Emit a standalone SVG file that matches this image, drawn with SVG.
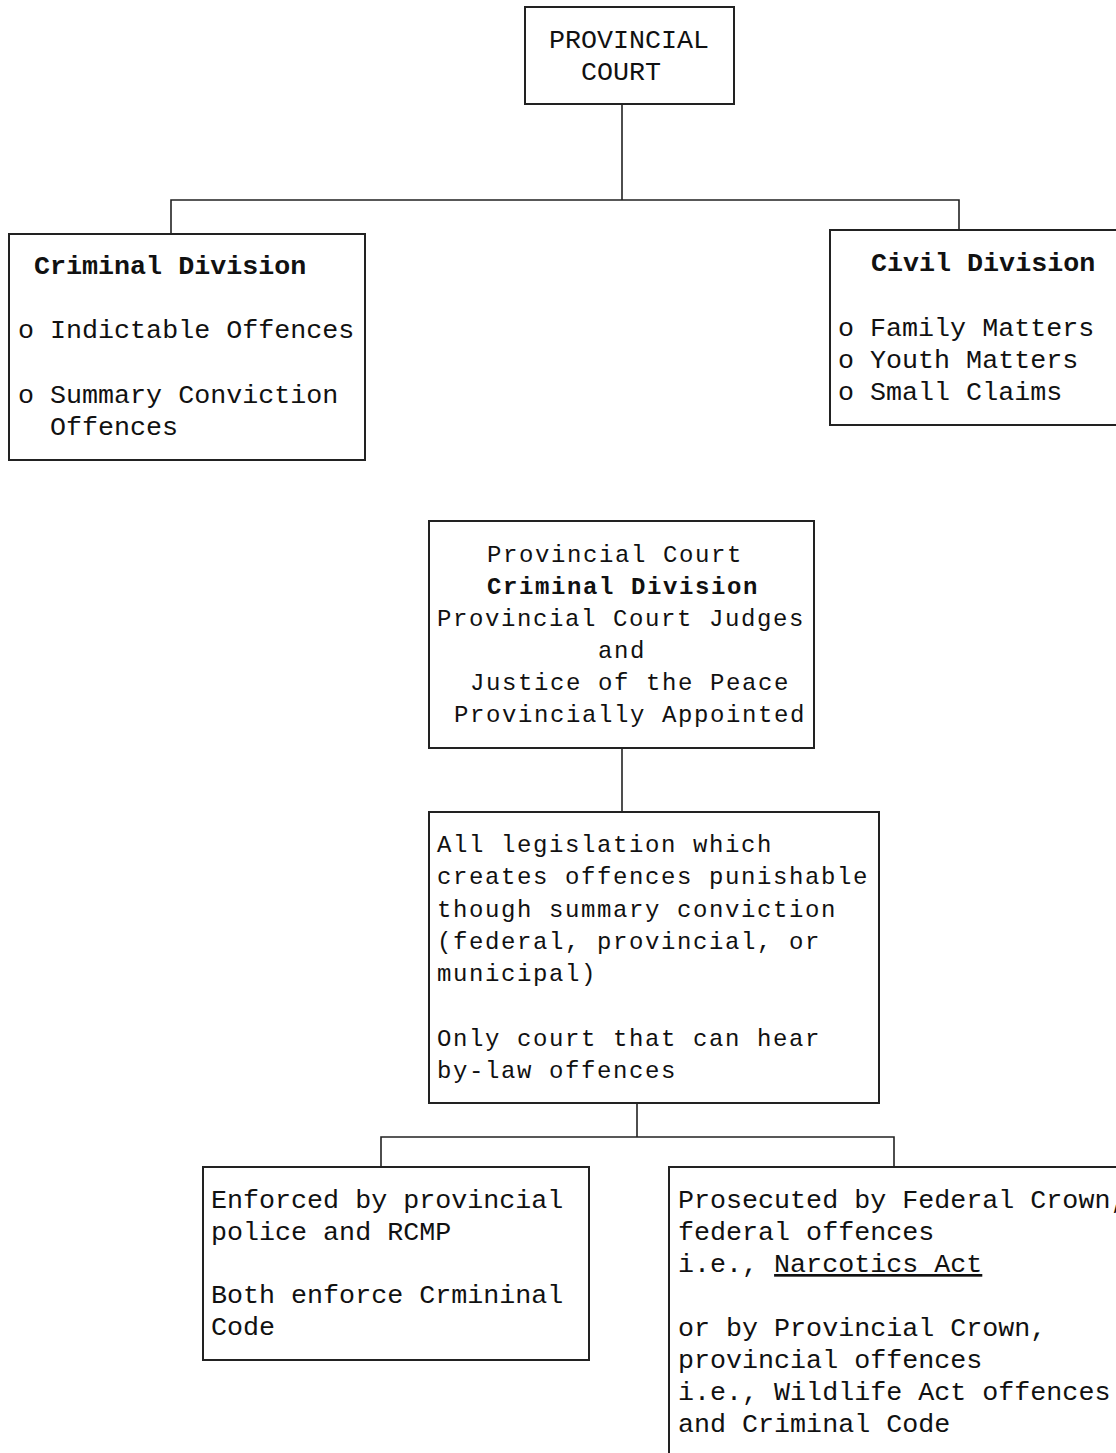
<svg xmlns="http://www.w3.org/2000/svg" width="1116" height="1453" viewBox="0 0 1116 1453">
<style>
.box{fill:#fff;stroke:#222;stroke-width:2}
.con{fill:none;stroke:#222;stroke-width:1.6}
text{font-family:"Liberation Mono","Courier New",monospace;fill:#111}
.t{font-size:26.7px}
.m{font-size:24px;letter-spacing:1.6px}
.b{font-weight:bold}
</style>
<rect width="1116" height="1453" fill="#fff"/>
<g id="connectors">
<path class="con" d="M622,104 V200 M171,234 V200 H959 V230"/>
<path class="con" d="M622,748 V812"/>
<path class="con" d="M637,1103 V1137 M381,1167 V1137 H894 V1167"/>
</g>
<g id="provincial-court">
<rect class="box" x="525" y="7" width="209" height="97"/>
<text class="t" x="629" y="48" text-anchor="middle">PROVINCIAL</text>
<text class="t" x="621" y="80" text-anchor="middle">COURT</text>
</g>
<g id="criminal-division">
<rect class="box" x="9" y="234" width="356" height="226"/>
<text class="t b" x="34" y="274">Criminal Division</text>
<text class="t" x="18" y="338">o Indictable Offences</text>
<text class="t" x="18" y="403">o Summary Conviction</text>
<text class="t" x="50" y="435">Offences</text>
</g>
<g id="civil-division">
<rect class="box" x="830" y="230" width="300" height="195"/>
<text class="t b" x="871" y="271">Civil Division</text>
<text class="t" x="838" y="336">o Family Matters</text>
<text class="t" x="838" y="368">o Youth Matters</text>
<text class="t" x="838" y="400">o Small Claims</text>
</g>
<g id="criminal-division-judges">
<rect class="box" x="429" y="521" width="385" height="227"/>
<text class="m" x="487" y="562">Provincial Court</text>
<text class="m b" x="487" y="594">Criminal Division</text>
<text class="m" x="437" y="626">Provincial Court Judges</text>
<text class="m" x="598" y="658">and</text>
<text class="m" x="470" y="690">Justice of the Peace</text>
<text class="m" x="454" y="722">Provincially Appointed</text>
</g>
<g id="legislation">
<rect class="box" x="429" y="812" width="450" height="291"/>
<text class="m" x="437" y="852">All legislation which</text>
<text class="m" x="437" y="884">creates offences punishable</text>
<text class="m" x="437" y="917">though summary conviction</text>
<text class="m" x="437" y="949">(federal, provincial, or</text>
<text class="m" x="437" y="981">municipal)</text>
<text class="m" x="437" y="1046">Only court that can hear</text>
<text class="m" x="437" y="1078">by-law offences</text>
</g>
<g id="enforced">
<rect class="box" x="203" y="1167" width="386" height="193"/>
<text class="t" x="211" y="1208">Enforced by provincial</text>
<text class="t" x="211" y="1240">police and RCMP</text>
<text class="t" x="211" y="1303">Both enforce Crmininal</text>
<text class="t" x="211" y="1335">Code</text>
</g>
<g id="prosecuted">
<rect class="box" x="669" y="1167" width="470" height="300"/>
<text class="t" x="678" y="1208">Prosecuted by Federal Crown,</text>
<text class="t" x="678" y="1240">federal offences</text>
<text class="t" x="678" y="1272">i.e., <tspan text-decoration="underline">Narcotics Act</tspan></text>
<text class="t" x="678" y="1336">or by Provincial Crown,</text>
<text class="t" x="678" y="1368">provincial offences</text>
<text class="t" x="678" y="1400">i.e., Wildlife Act offences</text>
<text class="t" x="678" y="1432">and Criminal Code</text>
</g>
</svg>
